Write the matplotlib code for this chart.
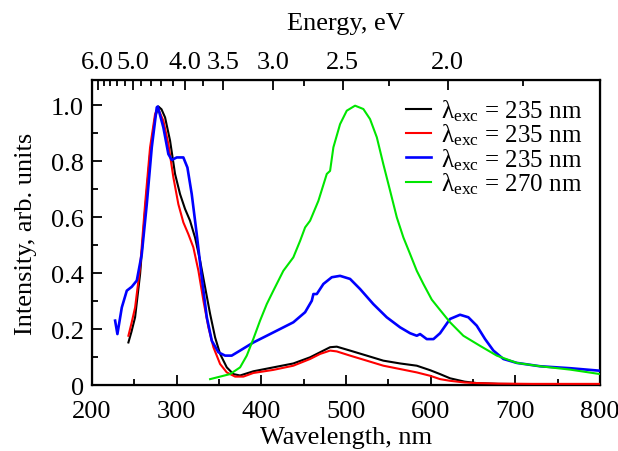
import numpy as np
import matplotlib
matplotlib.use("Agg")
import matplotlib.pyplot as plt
from matplotlib.ticker import MultipleLocator, FixedLocator

plt.rcParams['font.family'] = ['Liberation Serif', 'DejaVu Serif']
plt.rcParams['mathtext.fontset'] = 'custom'
plt.rcParams['mathtext.rm'] = 'Liberation Serif'
plt.rcParams['mathtext.it'] = 'Liberation Serif:italic'

# 数据
wl_black = [242.9, 246.5, 250.8, 256.7, 262.6, 268.5, 274.4, 278.3, 282.0, 286.2, 292.1, 298.0,
            303.9, 309.8, 315.7, 321.6, 327.6, 333.5, 339.4, 345.3, 351.2, 359.1, 366.9, 374.8,
            390.5, 414.1, 437.7, 457.5, 469.3, 481.1, 489.0, 504.7, 524.4, 544.0, 563.8, 583.5,
            599.2, 611.0, 622.8, 640.0, 654.0, 680.0, 720.0, 760.0, 800.0]
int_black = [0.152, 0.190, 0.242, 0.396, 0.623, 0.825, 0.956, 0.995, 0.985, 0.956, 0.873, 0.754,
             0.682, 0.629, 0.587, 0.527, 0.444, 0.349, 0.254, 0.170, 0.111, 0.063, 0.039, 0.034,
             0.049, 0.063, 0.077, 0.099, 0.117, 0.135, 0.137, 0.123, 0.105, 0.087, 0.077, 0.069,
             0.053, 0.039, 0.024, 0.012, 0.007, 0.004, 0.003, 0.003, 0.003]

wl_red = [242.9, 246.5, 250.8, 256.7, 262.6, 268.5, 274.4, 277.6, 284.2, 290.1, 296.0, 301.9,
          307.8, 313.7, 319.6, 325.6, 331.5, 337.4, 343.3, 351.2, 359.1, 368.9, 378.7, 390.5,
          414.1, 437.7, 457.5, 469.3, 481.1, 489.0, 504.7, 524.4, 544.0, 563.8, 583.5, 599.2,
          611.0, 622.8, 640.0, 654.0, 680.0, 720.0, 760.0, 800.0]
int_red = [0.176, 0.220, 0.277, 0.420, 0.646, 0.849, 0.968, 0.990, 0.944, 0.861, 0.742, 0.646,
           0.581, 0.539, 0.492, 0.408, 0.301, 0.206, 0.135, 0.075, 0.045, 0.030, 0.030, 0.043,
           0.054, 0.069, 0.093, 0.111, 0.123, 0.120, 0.105, 0.087, 0.069, 0.057, 0.045, 0.033,
           0.021, 0.015, 0.009, 0.007, 0.005, 0.004, 0.004, 0.004]

wl_blue = [227.2, 229.9, 235.1, 241.0, 246.9, 252.8, 258.7, 264.6, 270.5, 276.4, 277.6, 284.2,
           290.1, 294.1, 300.0, 307.8, 312.6, 317.7, 323.6, 329.5, 335.5, 341.4, 349.2, 357.1,
           364.9, 374.8, 390.5, 406.3, 422.0, 437.7, 451.6, 459.5, 461.4, 465.4, 473.2, 483.1,
           492.9, 504.7, 516.5, 532.2, 548.0, 563.8, 575.6, 583.5, 587.4, 595.3, 603.2, 611.0,
           622.8, 634.6, 644.4, 654.3, 664.2, 674.0, 685.8, 701.6, 729.1, 764.6, 800.0]
int_blue = [0.230, 0.182, 0.277, 0.337, 0.351, 0.373, 0.468, 0.646, 0.849, 0.992, 0.995, 0.920,
            0.825, 0.804, 0.813, 0.813, 0.777, 0.682, 0.539, 0.385, 0.242, 0.158, 0.117, 0.105,
            0.105, 0.123, 0.152, 0.176, 0.200, 0.224, 0.260, 0.301, 0.325, 0.325, 0.361, 0.385,
            0.390, 0.379, 0.343, 0.289, 0.242, 0.206, 0.185, 0.176, 0.182, 0.164, 0.164, 0.185,
            0.236, 0.251, 0.242, 0.212, 0.164, 0.123, 0.093, 0.079, 0.067, 0.060, 0.051]

wl_green = [339.4, 363.0, 374.8, 382.7, 390.5, 398.4, 406.3, 414.1, 425.9, 437.7, 445.7, 451.6,
            457.5, 467.3, 477.2, 481.1, 485.0, 492.9, 500.8, 510.6, 520.4, 528.3, 536.3, 544.0,
            552.0, 559.9, 567.7, 575.6, 583.5, 591.3, 601.2, 611.0, 622.8, 638.5, 658.2, 678.0,
            701.6, 729.1, 764.6, 800.0]
int_green = [0.021, 0.039, 0.063, 0.105, 0.165, 0.230, 0.289, 0.337, 0.408, 0.456, 0.515, 0.563,
             0.587, 0.658, 0.754, 0.765, 0.849, 0.932, 0.980, 0.998, 0.986, 0.950, 0.885, 0.789,
             0.694, 0.599, 0.527, 0.468, 0.408, 0.361, 0.305, 0.268, 0.224, 0.176, 0.140, 0.105,
             0.079, 0.067, 0.055, 0.039]

labels = ['λ$_{\\mathrm{exc}}$ = 235 nm', 'λ$_{\\mathrm{exc}}$ = 235 nm',
          'λ$_{\\mathrm{exc}}$ = 235 nm', 'λ$_{\\mathrm{exc}}$ = 270 nm']

energy_major = [6.0, 5.0, 4.0, 3.5, 3.0, 2.5, 2.0]
energy_minor = [5.8, 5.6, 5.4, 5.2, 4.8, 4.6, 4.4, 4.2, 3.75, 2.75, 2.25, 1.75]

fig = plt.figure(figsize=(6.18, 4.52), dpi=100)
ax = fig.add_axes([0.149, 0.146, 0.822, 0.675])

ax.plot(wl_black, int_black, color='black', lw=1.5, label=labels[0], zorder=2)
ax.plot(wl_red, int_red, color='#ff0000', lw=1.5, label=labels[1], zorder=3)
ax.plot(wl_blue, int_blue, color='#0000ff', lw=1.9, label=labels[2], zorder=4)
ax.plot(wl_green, int_green, color='#00e600', lw=1.5, label=labels[3], zorder=5)

ax.set_xlim(200, 800)
ax.set_ylim(0, 1.09)
ax.xaxis.set_major_locator(MultipleLocator(100))
ax.xaxis.set_minor_locator(MultipleLocator(50))
ax.yaxis.set_minor_locator(MultipleLocator(0.1))
ax.set_yticks([0, 0.2, 0.4, 0.6, 0.8, 1.0])
ax.set_yticklabels(['0', '0.2', '0.4', '0.6', '0.8', '1.0'])
ax.tick_params(which='both', direction='in', top=False, right=False, labelsize=19, width=1.3)
ax.tick_params(which='major', length=7)
ax.tick_params(which='minor', length=4.5)
ax.tick_params(axis='x', which='both', pad=10.5)
ax.tick_params(axis='y', which='both', pad=6)
for sp in ax.spines.values():
    sp.set_linewidth(1.6)

ax.set_xlabel('Wavelength, nm', fontsize=19, labelpad=3)
ax.set_ylabel('Intensity, arb. units', fontsize=19, labelpad=10)

# 上方能量轴
ax2 = ax.twiny()
ax2.set_xlim(ax.get_xlim())
ax2.xaxis.set_major_locator(FixedLocator([1239.84 / e for e in energy_major]))
ax2.xaxis.set_minor_locator(FixedLocator([1239.84 / e for e in energy_minor]))
ax2.set_xticklabels(['%.1f' % e for e in energy_major])
ax2.tick_params(which='both', direction='in', labelsize=19, width=1.3, pad=5)
ax2.tick_params(which='major', length=7)
ax2.tick_params(which='minor', length=4.5)
ax2.set_xlabel('Energy, eV', fontsize=19, labelpad=16)

ax.legend(loc='upper right', frameon=False, fontsize=18, handlelength=1.0,
          handletextpad=0.4, labelspacing=-0.05, borderaxespad=0.3)

plt.savefig('out.png', dpi=100)
